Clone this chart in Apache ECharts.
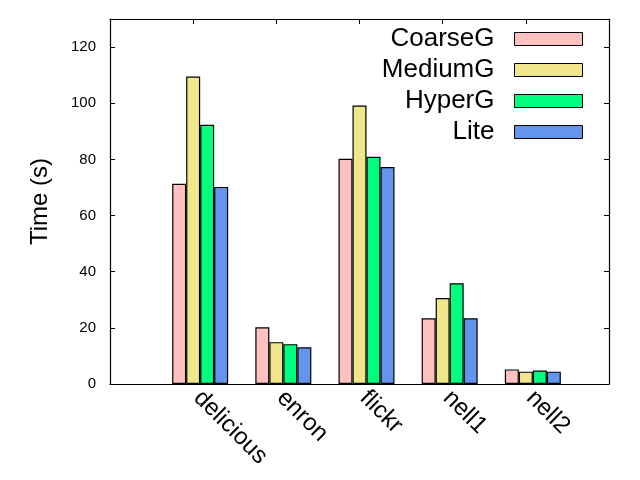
<!DOCTYPE html>
<html>
<head>
<meta charset="utf-8">
<script src="https://cdn.jsdelivr.net/npm/echarts@6/dist/echarts.min.js"></script>
<style>
  html, body { margin: 0; padding: 0; background: #fff; }
  #chart { width: 640px; height: 480px; }
</style>
</head>
<body>
<div id="chart"></div>
<script>
// datasets on the x axis
const datasets = ['delicious', 'enron', 'flickr', 'nell1', 'nell2']
// run time in seconds, one array per method
const coarseG = [71.3, 20.2, 80.2, 23.4, 5.2]
const mediumG = [109.5, 14.9, 99.2, 30.6, 4.4]
const hyperG = [92.3, 14.2, 80.9, 35.9, 4.8]
const lite = [70.2, 13.1, 77.3, 23.4, 4.4]

const names = ['CoarseG', 'MediumG', 'HyperG', 'Lite']
const colors = ['#ffc0c0', '#f0e68c', '#00ff7f', '#6495ed']
const values = [coarseG, mediumG, hyperG, lite]

const font = 'Liberation Sans, Arial, sans-serif'

// empty slot on each side, like the gnuplot xrange
const cats = [''].concat(datasets, [''])
const pad = arr => [null].concat(arr, [null])

let chart = echarts.init(document.getElementById('chart'))

let series = [
  // invisible spacer so the group sits a bit right of the tick
  {
    name: 'spacer',
    type: 'bar',
    barWidth: 14,
    barGap: 0,
    data: pad([null, null, null, null, null]),
    silent: true
  }
]
names.forEach((n, i) => {
  series.push({
    name: n,
    type: 'bar',
    barWidth: 14,
    barGap: 0,
    data: pad(values[i]),
    itemStyle: {
      color: colors[i],
      borderColor: '#000',
      borderWidth: 1.2
    }
  })
})

let option = {
  animation: false,
  backgroundColor: '#fff',
  grid: {
    left: 110,
    right: 31,
    top: 19,
    bottom: 96
  },
  legend: {
    data: names,
    orient: 'vertical',
    align: 'right',
    right: 57,
    top: 19,
    padding: 0,
    itemWidth: 68,
    itemHeight: 13,
    itemGap: -9,
    selectedMode: false,
    icon: 'rect',
    itemStyle: {
      borderColor: '#000',
      borderWidth: 1
    },
    textStyle: {
      fontFamily: font,
      fontSize: 26,
      color: '#000',
      lineHeight: 26,
      padding: [0, 15, 14, 0]
    }
  },
  xAxis: [
    {
      type: 'category',
      data: cats,
      boundaryGap: false,
      axisLine: { onZero: false, lineStyle: { color: '#000', width: 1.2 } },
      axisTick: { show: false },
      axisLabel: {
        interval: 0,
        rotate: -45,
        margin: 6,
        padding: [0, 0, 0, 6],
        fontFamily: font,
        fontSize: 24,
        color: '#000'
      }
    },
    {
      type: 'category',
      data: cats,
      boundaryGap: false,
      position: 'top',
      axisLine: { onZero: false, lineStyle: { color: '#000', width: 1.2 } },
      axisTick: { show: true, inside: true, length: 5, interval: 0, lineStyle: { color: '#000' } },
      axisLabel: { show: false }
    }
  ],
  yAxis: [
    {
      type: 'value',
      min: 0,
      max: 130,
      interval: 20,
      name: 'Time (s)',
      nameLocation: 'middle',
      nameGap: 58,
      nameTextStyle: {
        fontFamily: font,
        fontSize: 24,
        color: '#000'
      },
      splitLine: { show: false },
      axisLine: { show: true, onZero: false, lineStyle: { color: '#000', width: 1.2 } },
      axisTick: { show: true, inside: true, length: 5, lineStyle: { color: '#000' } },
      axisLabel: {
        showMaxLabel: false,
        margin: 14,
        fontFamily: font,
        fontSize: 15,
        color: '#000'
      }
    },
    {
      type: 'value',
      min: 0,
      max: 130,
      interval: 20,
      position: 'right',
      splitLine: { show: false },
      axisLine: { show: true, onZero: false, lineStyle: { color: '#000', width: 1.2 } },
      axisTick: { show: true, inside: true, length: 5, lineStyle: { color: '#000' } },
      axisLabel: { show: false }
    }
  ],
  series: series
}

chart.setOption(option)
</script>
</body>
</html>
